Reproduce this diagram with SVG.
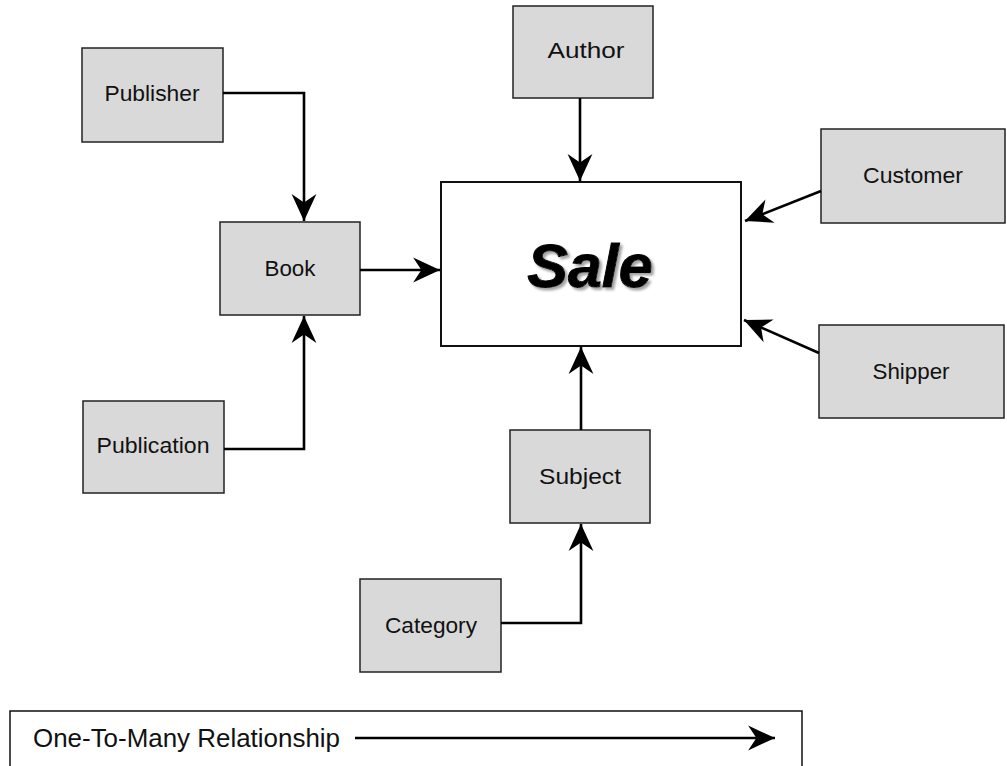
<svg xmlns="http://www.w3.org/2000/svg" width="1007" height="766" viewBox="0 0 1007 766">
<style>
.box{fill:#d9d9d9;stroke:#222;stroke-width:1.5}
.lbl{font-family:"Liberation Sans",Arial,sans-serif;font-size:22px;fill:#111;text-anchor:middle}
.con{fill:none;stroke:#000;stroke-width:2.6}
</style>
<defs>
<marker id="ah" markerUnits="userSpaceOnUse" markerWidth="30" markerHeight="30" viewBox="-27 -13 29 26" refX="0" refY="0" orient="auto">
<path d="M0,0 L-26,-12 L-18,0 L-26,12 Z" fill="#000"/>
</marker>
<filter id="shadow" x="-10%" y="-10%" width="130%" height="130%">
<feDropShadow dx="2.5" dy="2.5" stdDeviation="0.8" flood-color="#999" flood-opacity="0.9"/>
</filter>
</defs>
<rect width="1007" height="766" fill="#fff"/>
<g id="sale">
<rect x="441" y="182" width="300" height="164" fill="#fff" stroke="#111" stroke-width="2"/>
<text x="590" y="287" font-family="'Liberation Sans',Arial,sans-serif" font-size="61" font-weight="bold" font-style="italic" text-anchor="middle" fill="#000" stroke="#000" stroke-width="1" filter="url(#shadow)">Sale</text>
</g>
<g id="publisher"><rect class="box" x="82" y="48" width="141" height="94"/><text class="lbl" x="152" y="101" textLength="95" lengthAdjust="spacingAndGlyphs">Publisher</text></g>
<g id="book"><rect class="box" x="220" y="222" width="140" height="93"/><text class="lbl" x="290" y="276" textLength="51" lengthAdjust="spacingAndGlyphs">Book</text></g>
<g id="publication"><rect class="box" x="83" y="401" width="141" height="92"/><text class="lbl" x="153" y="453" textLength="113" lengthAdjust="spacingAndGlyphs">Publication</text></g>
<g id="author"><rect class="box" x="513" y="6" width="140" height="92"/><text class="lbl" x="586" y="58" textLength="77" lengthAdjust="spacingAndGlyphs">Author</text></g>
<g id="customer"><rect class="box" x="821" y="129" width="184" height="94"/><text class="lbl" x="913" y="183" textLength="100" lengthAdjust="spacingAndGlyphs">Customer</text></g>
<g id="shipper"><rect class="box" x="819" y="325" width="185" height="93"/><text class="lbl" x="911" y="379" textLength="77" lengthAdjust="spacingAndGlyphs">Shipper</text></g>
<g id="subject"><rect class="box" x="510" y="430" width="140" height="93"/><text class="lbl" x="580" y="484" textLength="82" lengthAdjust="spacingAndGlyphs">Subject</text></g>
<g id="category"><rect class="box" x="360" y="579" width="141" height="93"/><text class="lbl" x="431" y="633" textLength="92" lengthAdjust="spacingAndGlyphs">Category</text></g>
<g id="connectors">
<path class="con" d="M223,93 H304 V221" marker-end="url(#ah)"/>
<path class="con" d="M224,449 H304 V316" marker-end="url(#ah)"/>
<path class="con" d="M360,270 H440" marker-end="url(#ah)"/>
<path class="con" d="M580,98 V181" marker-end="url(#ah)"/>
<path class="con" d="M821,191 L745,221" marker-end="url(#ah)"/>
<path class="con" d="M819,353 L744,320" marker-end="url(#ah)"/>
<path class="con" d="M581,430 V347" marker-end="url(#ah)"/>
<path class="con" d="M501,623 H581 V524" marker-end="url(#ah)"/>
</g>
<g id="legend">
<rect x="10" y="711" width="792" height="60" fill="#fff" stroke="#111" stroke-width="1.5"/>
<text x="33" y="747" font-family="'Liberation Sans',Arial,sans-serif" font-size="25" fill="#111" textLength="307" lengthAdjust="spacingAndGlyphs">One-To-Many Relationship</text>
<path class="con" d="M355,738 H775" marker-end="url(#ah)"/>
</g>
</svg>
